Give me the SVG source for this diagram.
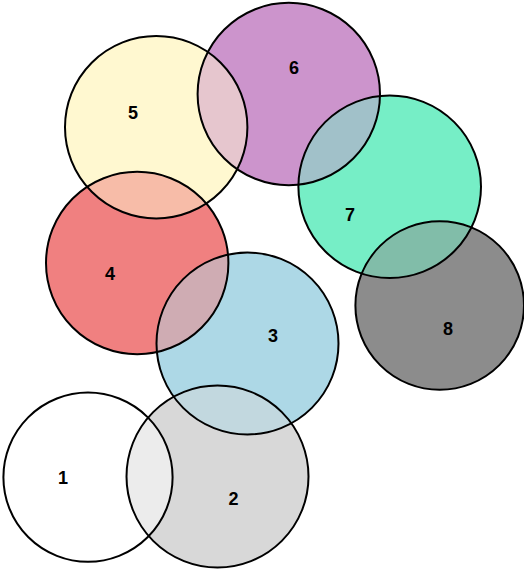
<svg xmlns="http://www.w3.org/2000/svg" width="524" height="569" viewBox="0 0 524 569">
<style>
.o{fill:none;stroke:#000;stroke-width:2}
.t{font-family:"Liberation Sans",Arial,sans-serif;font-weight:bold;font-size:18px;text-anchor:middle;fill:#000}
.h{fill-opacity:0.5}
</style>
<defs>
<clipPath id="c2"><circle cx="217.5" cy="476.5" r="91"/></clipPath>
<clipPath id="c3"><circle cx="247.5" cy="343.5" r="91"/></clipPath>
<clipPath id="c4"><circle cx="137.2" cy="263" r="91.2"/></clipPath>
<clipPath id="c5"><circle cx="156.2" cy="127.2" r="91.2"/></clipPath>
<clipPath id="c6"><circle cx="288.8" cy="94" r="91.2"/></clipPath>
<clipPath id="c7"><circle cx="389.7" cy="186.7" r="91.3"/></clipPath>
<clipPath id="c8"><circle cx="439.7" cy="305.5" r="84.3"/></clipPath>
</defs>
<g id="fills">
<circle cx="88" cy="477.2" r="84.6" fill="#ffffff"/>
<circle cx="217.5" cy="476.5" r="91" fill="#d8d8d8"/>
<circle cx="247.5" cy="343.5" r="91" fill="#add8e6"/>
<circle cx="137.2" cy="263" r="91.2" fill="#f08080"/>
<circle cx="156.2" cy="127.2" r="91.2" fill="#fff8d0"/>
<circle cx="288.8" cy="94" r="91.2" fill="#cc94cc"/>
<circle cx="389.7" cy="186.7" r="91.3" fill="#76eec6"/>
<circle cx="439.7" cy="305.5" r="84.3" fill="#8c8c8c"/>
</g>
<g id="overlaps" class="h">
<circle cx="88" cy="477.2" r="84.6" fill="#ffffff" clip-path="url(#c2)"/>
<circle cx="217.5" cy="476.5" r="91" fill="#d8d8d8" clip-path="url(#c3)"/>
<circle cx="247.5" cy="343.5" r="91" fill="#add8e6" clip-path="url(#c4)"/>
<circle cx="137.2" cy="263" r="91.2" fill="#f08080" clip-path="url(#c5)"/>
<circle cx="156.2" cy="127.2" r="91.2" fill="#fff8d0" clip-path="url(#c6)"/>
<circle cx="288.8" cy="94" r="91.2" fill="#cc94cc" clip-path="url(#c7)"/>
<circle cx="389.7" cy="186.7" r="91.3" fill="#76eec6" clip-path="url(#c8)"/>
</g>
<g id="n1"><circle class="o" cx="88" cy="477.2" r="84.6"/><text class="t" x="63" y="484">1</text></g>
<g id="n2"><circle class="o" cx="217.5" cy="476.5" r="91"/><text class="t" x="233.5" y="505">2</text></g>
<g id="n3"><circle class="o" cx="247.5" cy="343.5" r="91"/><text class="t" x="273" y="342">3</text></g>
<g id="n4"><circle class="o" cx="137.2" cy="263" r="91.2"/><text class="t" x="110" y="280">4</text></g>
<g id="n5"><circle class="o" cx="156.2" cy="127.2" r="91.2"/><text class="t" x="133" y="119">5</text></g>
<g id="n6"><circle class="o" cx="288.8" cy="94" r="91.2"/><text class="t" x="294" y="74">6</text></g>
<g id="n7"><circle class="o" cx="389.7" cy="186.7" r="91.3"/><text class="t" x="350" y="221">7</text></g>
<g id="n8"><circle class="o" cx="439.7" cy="305.5" r="84.3"/><text class="t" x="448" y="335">8</text></g>
<g id="connectors"></g>
</svg>
